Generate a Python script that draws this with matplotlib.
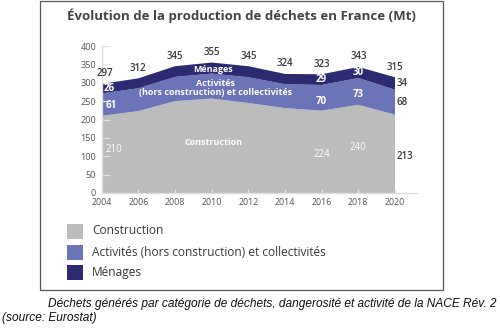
import matplotlib
matplotlib.use("Agg")
import matplotlib.pyplot as plt
from matplotlib.patches import Rectangle

# Production de déchets en France, en millions de tonnes
years = [2004, 2006, 2008, 2010, 2012, 2014, 2016, 2018, 2020]
construction = [210, 223, 250, 257, 245, 231, 224, 240, 213]
activites = [61, 62, 66, 68, 70, 65, 70, 73, 68]
menages = [26, 27, 29, 30, 30, 28, 29, 30, 34]
totals = [297, 312, 345, 355, 345, 324, 323, 343, 315]

series_names = ["Construction",
                "Activités (hors construction) et collectivités",
                "Ménages"]
colors = ["#bcbcbc", "#6a74b7", "#2c2a70"]
yticks = [0, 50, 100, 150, 200, 250, 300, 350, 400]
xticks = years

FONT = "Open Sans"
TXT = "#3a3a3a"

W, H = 500, 328
fig = plt.figure(figsize=(W / 100, H / 100), dpi=100)

def fx(px):
    return px / W

def fy(py):
    return 1 - py / H

ax = fig.add_axes([fx(101.7), fy(193), fx(417) - fx(101.7), fy(46) - fy(193)])
ax.stackplot(years, construction, activites, menages, colors=colors,
             linewidth=0)
ax.set_xlim(2004, 2021.2)
ax.set_ylim(0, 400)

for side in ["top", "right"]:
    ax.spines[side].set_visible(False)
for side in ["left", "bottom"]:
    ax.spines[side].set_color("#dedede")
    ax.spines[side].set_linewidth(1.0)

ax.set_yticks(yticks)
ax.set_xticks(xticks)
ax.tick_params(axis="y", direction="in", length=6, width=0.9, color="#e2e2e2",
               pad=4, labelsize=6.6, labelcolor="#555555")
ax.tick_params(axis="x", direction="in", length=3, width=0.9, color="#e2e2e2",
               pad=3.5, labelsize=6.4, labelcolor="#555555")
for lab in ax.get_xticklabels() + ax.get_yticklabels():
    lab.set_fontfamily(FONT)

# Totals above each year
for i, (x, t) in enumerate(zip(years, totals)):
    dx = 2.5 if i == 0 else 0
    ax.annotate(str(t), (x, t), xytext=(dx, 7.2), textcoords="offset points",
                ha="center", va="center", fontsize=7, fontweight="semibold",
                color=TXT, family=FONT)

# Values inside the bands
white = dict(color="white", fontweight="bold", family=FONT, fontsize=7,
             va="center")
ax.text(2004.1, construction[0] + activites[0] + menages[0] / 2, str(menages[0]),
        ha="left", **white)
ax.text(2004.2, construction[0] + activites[0] / 2 - 2, str(activites[0]),
        ha="left", **white)
ax.text(2004.2, 118, str(construction[0]), ha="left",
        **{**white, "fontweight": "normal"})
for i in (6, 7):
    x = years[i]
    ax.text(x, construction[i] + activites[i] + menages[i] / 2 - 1,
            str(menages[i]), ha="center", **white)
    ax.text(x, construction[i] + activites[i] / 2 - 9, str(activites[i]),
            ha="center", **white)
ax.text(years[6], 105, str(construction[6]), ha="center",
        **{**white, "fontweight": "normal"})
ax.text(years[7], 124, str(construction[7]), ha="center",
        **{**white, "fontweight": "normal"})

# Band names
band = {**white, "fontsize": 6.5}
ax.text(2010.1, 137, "Construction", ha="center", **band)
ax.text(2010.1, 336, "Ménages", ha="center", **band)
ax.text(2010.2, 297, "Activités", ha="center", **band)
ax.text(2010.2, 274, "(hors construction) et collectivités", ha="center", **band)

# Last-year values, to the right of the chart
dark = dict(color=TXT, fontweight="semibold", family=FONT, fontsize=7,
            va="center", ha="left")
ax.text(2020.1, construction[-1] + activites[-1] + menages[-1] / 2 - 1,
        str(menages[-1]), **dark)
ax.text(2020.1, construction[-1] + activites[-1] / 2 - 2, str(activites[-1]),
        **dark)
ax.text(2020.1, 98, str(construction[-1]), **dark)

# Title
fig.text(fx(241), fy(16), "Évolution de la production de déchets en France (Mt)",
         ha="center", va="center", fontsize=9.5, fontweight="bold",
         color="#444444", family=FONT)

# Legend
legend_y = [231, 252.5, 272.5]
for name, col, yc in zip(series_names, colors, legend_y):
    fig.add_artist(Rectangle((fx(66.7), fy(yc + 7.5)), fx(16), 15 / H,
                             transform=fig.transFigure, facecolor=col,
                             edgecolor="none"))
    fig.text(fx(92), fy(yc), name, ha="left", va="center", fontsize=8.6,
             color=TXT, family=FONT)

# Frame around the chart
fig.add_artist(Rectangle((fx(40), fy(290)), fx(403), 289 / H,
                         transform=fig.transFigure, fill=False,
                         edgecolor="#555555", linewidth=0.9))

# Caption
fig.text(fx(497), fy(304),
         "Déchets générés par catégorie de déchets, dangerosité et activité de la NACE Rév. 2",
         ha="right", va="center", fontsize=8.6, style="italic",
         family="Liberation Sans", color="#111111")
fig.text(fx(2), fy(318), "(source: Eurostat)", ha="left", va="center",
         fontsize=8.6, style="italic", family="Liberation Sans",
         color="#111111")

fig.savefig("out.png", dpi=100)
